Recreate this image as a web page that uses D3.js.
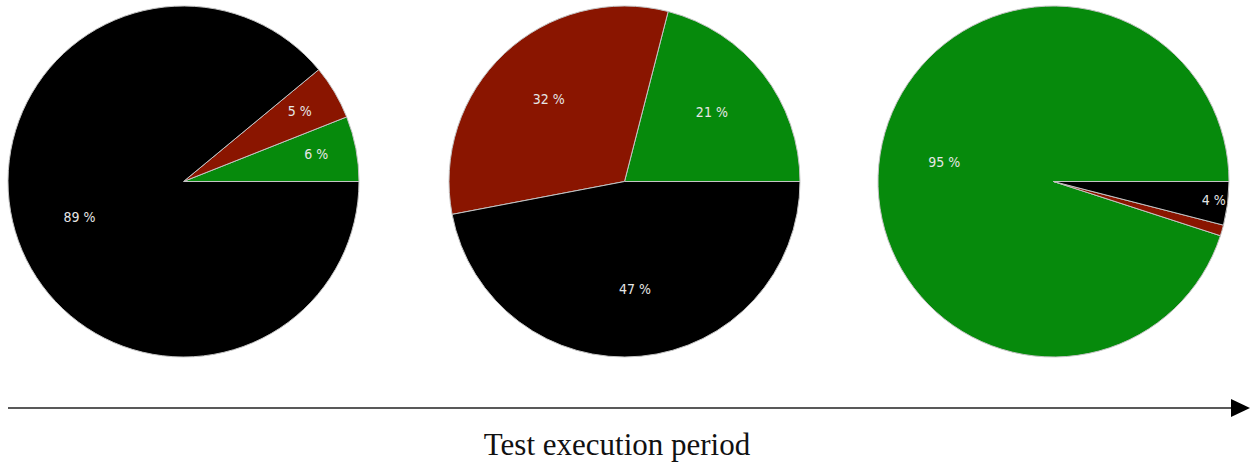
<!DOCTYPE html>
<html>
<head>
<meta charset="utf-8">
<script src="https://cdn.jsdelivr.net/npm/d3@7"></script>
<style>
  body { margin: 0; background: #fff; }
</style>
</head>
<body>
<div id="chart"></div>
<script>
// data: one array per pie, slice order counter-clockwise from 3 o'clock
var categories = ["green", "red", "black"];
var pie1 = [6, 5, 89];
var pie2 = [21, 32, 47];
var pie3 = [95, 1, 4];
var pieValues = [pie1, pie2, pie3];
var axisLabel = "Test execution period";

var colors = { green: "#068a0c", red: "#8a1500", black: "#000000" };

var width = 1250, height = 465;
var r = 175.5, cy = 181.5;

var svg = d3.select("#chart")
    .append("svg")
    .attr("width", width)
    .attr("height", height);

// pie centers
var x = d3.scaleOrdinal()
    .domain([0, 1, 2])
    .range([183.5, 624.5, 1053.5]);

// d3 angles run clockwise from 12 o'clock; ours run counter-clockwise from 3 o'clock
var pie = d3.pie()
    .sort(null)
    .startAngle(Math.PI / 2)
    .endAngle(Math.PI / 2 - 2 * Math.PI);

var arc = d3.arc().innerRadius(0).outerRadius(r);

function labelRadius(v) {
    if (v >= 10) return r * 0.63;
    if (v >= 5) return r * 0.77;
    return r * 0.92;
}

pieValues.forEach(function (vals, i) {
    var data = vals.map(function (v, j) { return { cat: categories[j], value: v }; });
    var g = svg.append("g")
        .attr("transform", "translate(" + x(i) + "," + cy + ")");

    var arcs = pie.value(function (d) { return d.value; })(data);

    g.selectAll("path")
        .data(arcs)
        .enter()
        .append("path")
        .attr("d", arc)
        .style("fill", function (d) { return colors[d.data.cat]; })
        .style("stroke", "#c4c4c4")
        .style("stroke-width", 1);

    g.selectAll("text")
        .data(arcs.filter(function (d) { return d.data.value > 2; }))
        .enter()
        .append("text")
        .attr("transform", function (d) {
            var a = (d.startAngle + d.endAngle) / 2;
            var lr = labelRadius(d.data.value);
            return "translate(" + (Math.sin(a) * lr) + "," + (-Math.cos(a) * lr - 2) + ")";
        })
        .attr("text-anchor", "middle")
        .attr("dy", "0.35em")
        .style("font-family", "'DejaVu Sans Condensed', 'DejaVu Sans', sans-serif")
        .style("font-stretch", "condensed")
        .style("font-size", "14px")
        .style("fill", "#e6e6e6")
        .text(function (d) { return d.data.value + " %"; });
});

// time arrow
svg.append("line")
    .attr("x1", 8).attr("x2", 1232)
    .attr("y1", 408).attr("y2", 408)
    .style("stroke", "#222")
    .style("stroke-width", 1.5);

svg.append("path")
    .attr("d", "M1231,399 L1250,408 L1231,417 Z")
    .style("fill", "#000");

svg.append("text")
    .attr("x", 617)
    .attr("y", 455)
    .attr("text-anchor", "middle")
    .style("font-family", "'Liberation Serif', 'Times New Roman', serif")
    .style("font-size", "31px")
    .style("fill", "#111")
    .text(axisLabel);
</script>
</body>
</html>
